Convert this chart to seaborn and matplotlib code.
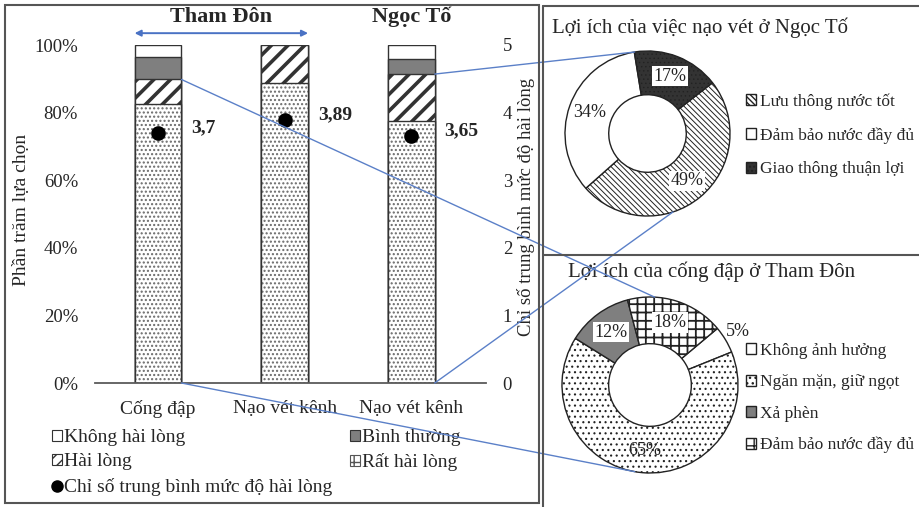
import numpy as np
import pandas as pd
import matplotlib
matplotlib.use("Agg")
import matplotlib.pyplot as plt
from matplotlib.patches import Rectangle, ConnectionPatch, Patch
from matplotlib.lines import Line2D
import seaborn as sns

# ---------------- data ----------------
bar_keys = ["tham_don_cong_dap", "tham_don_nao_vet", "ngoc_to_nao_vet"]
bar_labels = ["Cống đập", "Nạo vét kênh", "Nạo vét kênh"]
rat_hai_long = [82.5, 88.8, 77.6]
hai_long = [7.3, 11.2, 13.8]
binh_thuong = [6.7, 0.0, 4.6]
khong_hai_long = [3.5, 0.0, 4.0]
mean_scores = [3.7, 3.89, 3.65]
pct_ticks = [0, 20, 40, 60, 80, 100]
score_ticks = [0, 1, 2, 3, 4, 5]

ngoc_to_labels = ["Lưu thông nước tốt", "Đảm bảo nước đầy đủ", "Giao thông thuận lợi"]
ngoc_to_values = [49, 34, 17]
tham_don_labels = ["Không ảnh hưởng", "Ngăn mặn, giữ ngọt", "Xả phèn", "Đảm bảo nước đầy đủ"]
tham_don_values = [5, 65, 12, 18]

# ---------------- style ----------------
sns.set_style("white")
plt.rcParams["font.family"] = ["Liberation Serif", "DejaVu Serif"]
plt.rcParams["hatch.linewidth"] = 1.0

W, H = 919, 507
fig = plt.figure(figsize=(W / 100, H / 100), dpi=100)
fig.patch.set_facecolor("white")


def px_axes(l, t, r, b):
    return fig.add_axes([l / W, 1 - b / H, (r - l) / W, (b - t) / H])


def set_hatch_lw(patches, lw):
    for p in patches:
        if hasattr(p, "set_hatch_linewidth"):
            p.set_hatch_linewidth(lw)


EDGE = "#333333"
GREY = "#7f7f7f"
BLUE = "#5b80c8"
BAR_W = 0.37

# ---------------- stacked bars ----------------
df = pd.DataFrame({
    "key": bar_keys,
    "rat": rat_hai_long,
    "hai": hai_long,
    "binh": binh_thuong,
    "khong": khong_hai_long,
    "score": mean_scores,
})
df["top_rat"] = df["rat"]
df["top_hai"] = df["top_rat"] + df["hai"]
df["top_binh"] = df["top_hai"] + df["binh"]
df["top_khong"] = df["top_binh"] + df["khong"]

ax = px_axes(94.7, 45, 486, 383)

# tallest cumulative layer first, each lower layer drawn over it
layers = [
    ("top_khong", "white", None, 1.0),
    ("top_binh", GREY, None, 1.0),
    ("top_hai", "white", "//", 2.6),
    ("top_rat", "white", "....", 1.0),
]
for col, face, hatch, hlw in layers:
    n0 = len(ax.patches)
    with plt.rc_context({"hatch.linewidth": hlw}):
        if col == "top_rat":
            sns.barplot(data=df, x="key", y=col, order=bar_keys, color=face,
                        saturation=1, width=BAR_W, errorbar=None, hatch=hatch,
                        edgecolor="#6a6a6a", linewidth=0, ax=ax)
        else:
            sns.barplot(data=df, x="key", y=col, order=bar_keys, color=face,
                        saturation=1, width=BAR_W, errorbar=None, hatch=hatch,
                        edgecolor=EDGE, linewidth=1.0, ax=ax)
    set_hatch_lw(ax.patches[n0:], hlw)
# outline of the lowest segment
sns.barplot(data=df, x="key", y="top_rat", order=bar_keys, color=EDGE,
            saturation=1, width=BAR_W, errorbar=None, fill=False,
            linewidth=1.0, ax=ax)

ax.set_ylim(0, 100)
ax.set_xlim(-0.5, 2.59)
ax.set_yticks(pct_ticks, labels=[f"{t}%" for t in pct_ticks])
ax.set_xticks(range(len(bar_labels)), labels=bar_labels)
ax.set_xlabel("")
ax.set_ylabel("")
ax.tick_params(axis="y", length=0, pad=12, labelsize=13.5)
ax.tick_params(axis="x", length=0, pad=12, labelsize=14)
for s in ["left", "right", "top"]:
    ax.spines[s].set_visible(False)
ax.spines["bottom"].set_color("#5a5a5a")
ax.spines["bottom"].set_linewidth(1.3)

# mean satisfaction on the secondary axis
ax2 = ax.twinx()
sns.pointplot(data=df, x="key", y="score", order=bar_keys, color="black",
              linestyle="none", markers="o", markersize=8.5, errorbar=None, ax=ax2)
ax2.set_ylim(0, 5)
ax2.set_xlim(-0.5, 2.59)
ax2.set_yticks(score_ticks, labels=[str(t) for t in score_ticks])
ax2.set_ylabel("")
ax2.tick_params(axis="y", length=0, pad=12, labelsize=13.5)
for s in ax2.spines.values():
    s.set_visible(False)
for i, v in enumerate(mean_scores):
    ax2.annotate(str(v).replace(".", ","), xy=(float(i), float(v)),
                 xycoords=ax2.transData, xytext=(24, 4),
                 textcoords="offset points", ha="left", va="center",
                 fontsize=14, fontweight="bold")

# site headers
xt = ax.get_xaxis_transform()
fig.text(0.5, 1.083, "Tham Đôn", transform=xt,
         ha="center", va="center", fontsize=16, fontweight="bold")
fig.text(2.0, 1.083, "Ngọc Tố", transform=xt,
         ha="center", va="center", fontsize=16, fontweight="bold")
arrow = ConnectionPatch(xyA=(-BAR_W / 2, 1.035), coordsA=xt,
                        xyB=(1 + BAR_W / 2, 1.035), coordsB=xt,
                        arrowstyle="<|-|>", color="#4a72c4", lw=1.4,
                        shrinkA=0, shrinkB=0, mutation_scale=9)
fig.add_artist(arrow)

fig.text(22 / W, 1 - 210 / H, "Phần trăm lựa chọn", rotation=90,
         ha="center", va="center", fontsize=14)
fig.text(526 / W, 1 - 207 / H, "Chỉ số trung bình mức độ hài lòng", rotation=90,
         ha="center", va="center", fontsize=13.5)

# bar legend
with plt.rc_context({"hatch.linewidth": 1.6}):
    h_khong = Patch(facecolor="white", edgecolor=EDGE, lw=0.8)
    h_hai = Patch(facecolor="white", edgecolor=EDGE, hatch="///", lw=0.8)
    h_binh = Patch(facecolor=GREY, edgecolor=EDGE, lw=0.8)
with plt.rc_context({"hatch.linewidth": 0.8}):
    h_rat = Patch(facecolor="white", edgecolor="#555555", hatch="++", lw=0.8)
set_hatch_lw([h_hai], 1.6)
set_hatch_lw([h_rat], 0.8)
h_dot = Line2D([], [], marker="o", color="black", linestyle="none", markersize=8)
fig.legend(handles=[h_khong, h_hai, h_dot, h_binh, h_rat],
           labels=["Không hài lòng", "Hài lòng", "Chỉ số trung bình mức độ hài lòng",
                   "Bình thường", "Rất hài lòng"],
           ncol=2, loc="upper left", bbox_to_anchor=(52 / W, 1 - 429 / H),
           frameon=False, fontsize=14, handlelength=0.5, handleheight=0.5,
           handletextpad=0.12, labelspacing=0.38, columnspacing=0.9,
           borderpad=0, borderaxespad=0)

# ---------------- donut charts ----------------
RING = 0.53


def donut(box, values, colors, hatches, hlws, startangle, boxed):
    axp = px_axes(*box)
    wedges, _, autotexts = axp.pie(
        values, startangle=startangle, counterclock=False, colors=colors,
        hatch=hatches, autopct=lambda p: f"{p:.0f}%", pctdistance=0.745,
        wedgeprops=dict(width=RING, edgecolor="#222222", linewidth=1.0),
        textprops=dict(fontsize=13, color="#222222"))
    for w, lw in zip(wedges, hlws):
        set_hatch_lw([w], lw)
    for t, b in zip(autotexts, boxed):
        if b:
            t.set_bbox(dict(facecolor="white", edgecolor="none", pad=1.2))
    axp.set_xlim(-1, 1)
    axp.set_ylim(-1, 1)
    axp.set_aspect("equal")
    axp.axis("off")
    return axp, wedges, autotexts


with plt.rc_context({"hatch.linewidth": 0.7}):
    ax_top, w_top, t_top = donut(
        (565, 51, 730, 216), ngoc_to_values,
        ["white", "white", "#333333"], ["\\\\\\\\\\\\", None, "...."],
        [0.7, 1.0, 0.5], 38, [True, False, True])

with plt.rc_context({"hatch.linewidth": 1.3}):
    ax_bot, w_bot, t_bot = donut(
        (562, 297, 738, 473), tham_don_values,
        ["white", "white", GREY, "white"], [None, "...", None, "++"],
        [1.0, 0.8, 1.0, 1.3], 40, [False, False, True, True])

# small slice label sits outside the ring
w5 = w_bot[0]
mid = np.deg2rad((w5.theta1 + w5.theta2) / 2)
t_bot[0].set_position((1.17 * np.cos(mid), 1.17 * np.sin(mid)))
t_bot[0].set_clip_on(False)

fig.text(552 / W, 1 - 28 / H, "Lợi ích của việc nạo vét ở Ngọc Tố",
         ha="left", va="center", fontsize=15)
fig.text(568 / W, 1 - 272 / H, "Lợi ích của cống đập ở Tham Đôn",
         ha="left", va="center", fontsize=15)

legend_kw = dict(loc="upper left", frameon=False, fontsize=12.5,
                 handlelength=0.6, handleheight=0.6, handletextpad=0.2,
                 borderpad=0, borderaxespad=0)
fig.legend(handles=list(w_top), labels=ngoc_to_labels,
           bbox_to_anchor=(746 / W, 1 - 93 / H), labelspacing=1.02, **legend_kw)
fig.legend(handles=list(w_bot), labels=tham_don_labels,
           bbox_to_anchor=(746 / W, 1 - 343 / H), labelspacing=0.88, **legend_kw)

# ---------------- connectors from bars to donuts ----------------
def connect(xa, ya, ang_deg, axp):
    a = np.deg2rad(90 - ang_deg)
    cp = ConnectionPatch(xyA=(xa, ya), coordsA=ax.transData,
                         xyB=(np.cos(a), np.sin(a)), coordsB=axp.transData,
                         color=BLUE, lw=1.0, zorder=20)
    fig.add_artist(cp)


right0 = 0 + BAR_W / 2
right2 = 2 + BAR_W / 2
connect(right0, float(df.loc[0, "top_hai"]), 3, ax_bot)
connect(right0, 0.0, 190, ax_bot)
connect(right2, float(df.loc[2, "top_hai"]), -9, ax_top)
connect(right2, 0.0, 162, ax_top)

# ---------------- panel frames ----------------
FRAME = "#555555"
fig.add_artist(Rectangle((5 / W, 1 - 503 / H), (539 - 5) / W, (503 - 5) / H,
                         transform=fig.transFigure, fill=False,
                         edgecolor=FRAME, lw=1.5, zorder=30))
for (x0, y0, x1, y1) in [(543, 6, 919, 6), (543, 6, 543, 507), (543, 255, 919, 255)]:
    fig.add_artist(Line2D([x0 / W, x1 / W], [1 - y0 / H, 1 - y1 / H],
                          transform=fig.transFigure, color=FRAME, lw=1.5, zorder=30))

fig.savefig("out.png", dpi=100, facecolor="white")
